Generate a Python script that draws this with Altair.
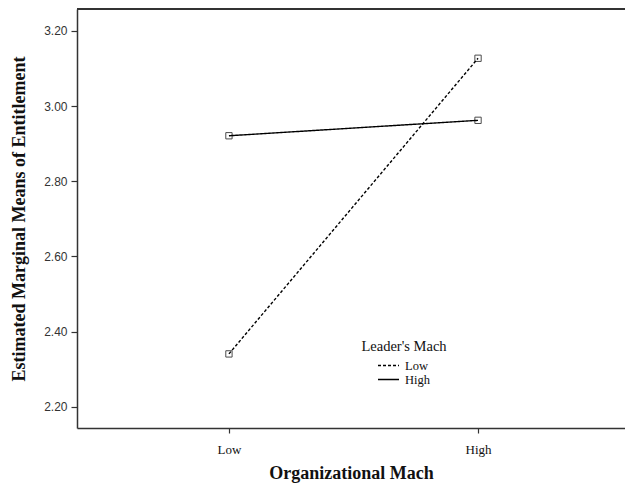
import altair as alt
import pandas as pd

org_levels = ["Low", "High"]
leader_levels = ["Low", "High"]
means_leader_low = [2.341, 3.127]
means_leader_high = [2.921, 2.962]

rows = []
for lvl, vals in zip(leader_levels, [means_leader_low, means_leader_high]):
    for i, (o, v) in enumerate(zip(org_levels, vals)):
        rows.append({"org": o, "org_pos": i, "leader": lvl, "mean": v})
df = pd.DataFrame(rows)

serif = "Liberation Serif"
sans = "Liberation Sans"

x_enc = alt.X(
    "org_pos:Q",
    scale=alt.Scale(domain=[-0.61, 1.59], nice=False, zero=False),
    axis=alt.Axis(
        title="Organizational Mach",
        values=[0, 1],
        labelExpr="datum.value == 0 ? 'Low' : 'High'",
        labelFont=serif, labelFontSize=13, labelColor="#111", labelAngle=0,
        labelPadding=10, titleFont=serif, titleFontSize=18, titleFontWeight="bold",
        titleColor="#111", titlePadding=8, tickSize=5, domainColor="#333",
        tickColor="#333", domainWidth=1.5, tickWidth=1.2, grid=False,
    ),
)
y_enc = alt.Y(
    "mean:Q",
    scale=alt.Scale(domain=[2.144, 3.258], nice=False, zero=False),
    axis=alt.Axis(
        title="Estimated Marginal Means of Entitlement",
        values=[2.2, 2.4, 2.6, 2.8, 3.0, 3.2], format=".2f",
        labelFont=sans, labelFontSize=12, labelColor="#333", labelPadding=4,
        titleFont=serif, titleFontSize=18, titleFontWeight="bold",
        titleColor="#111", titlePadding=15, tickSize=6, domainColor="#333",
        tickColor="#333", domainWidth=1.5, tickWidth=1.2, grid=False,
    ),
)

lines = alt.Chart(df).mark_line(color="black", strokeWidth=1.4).encode(
    x=x_enc,
    y=y_enc,
    strokeDash=alt.StrokeDash(
        "leader:N",
        sort=leader_levels,
        scale=alt.Scale(domain=leader_levels, range=[[3, 2], [1, 0]]),
        legend=alt.Legend(
            title="Leader's Mach", orient="none", legendX=284, legendY=331,
            titleFont=serif, titleFontSize=14.5, titleFontWeight="normal",
            titleColor="#111", titleAnchor="middle", titleAlign="center",
            titlePadding=4,
            labelFont=serif, labelFontSize=12.5, labelColor="#111",
            symbolType="stroke", symbolSize=441, symbolStrokeColor="black",
            symbolStrokeWidth=1.4, rowPadding=0, clipHeight=14,
            labelOffset=5, padding=0,
        ),
    ),
)

points = alt.Chart(df).mark_point(
    shape="square", filled=False, color="black", size=40, strokeWidth=1
).encode(x=x_enc, y=y_enc, detail="leader:N")

top_rule = alt.Chart(df).mark_rule(color="#333", strokeWidth=1.5).encode(
    x=alt.value(0), x2=alt.value(560), y=alt.value(0)
)

chart = alt.layer(lines, points, top_rule).properties(
    width=548, height=419,
    autosize=alt.AutoSizeParams(type="none"),
    padding={"left": 77, "top": 9, "right": 0, "bottom": 56},
    background="white",
).configure_view(stroke=None)

chart.save("out.html", embed_options={"renderer": "svg", "actions": False})
